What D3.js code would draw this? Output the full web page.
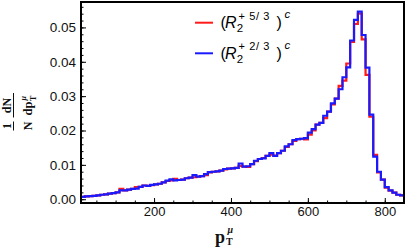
<!DOCTYPE html>
<html>
<head>
<meta charset="utf-8">
<script src="https://cdn.jsdelivr.net/npm/d3@7"></script>
<style>
  body { margin: 0; background: #fff; }
  svg { display: block; }
</style>
</head>
<body>
<script>
// bin left edges (width 10), pT in GeV
var binEdges = d3.range(10, 850, 10);
var binWidth = 10;

// (R2^{+5/3})^c  -- red
var redValues = [
  0.0007, 0.0008, 0.0009, 0.0010, 0.0011, 0.0013, 0.0014, 0.0016, 0.0018, 0.0020,
  0.0030, 0.0026, 0.0028, 0.0030, 0.0035, 0.0036, 0.0040, 0.0039, 0.0041, 0.0043,
  0.0045, 0.0049, 0.0053, 0.0055, 0.0059, 0.0056, 0.0057, 0.0061, 0.0063, 0.0064,
  0.0066, 0.0067, 0.0070, 0.0078, 0.0080, 0.0081, 0.0083, 0.0087, 0.0089, 0.0090,
  0.0091, 0.0097, 0.0095, 0.0094, 0.0102, 0.0111, 0.0117, 0.0120, 0.0126, 0.0130,
  0.0127, 0.0134, 0.0141, 0.0152, 0.0160, 0.0170, 0.0175, 0.0176, 0.0174, 0.0188,
  0.0200, 0.0217, 0.0222, 0.0236, 0.0255, 0.0276, 0.0293, 0.0330, 0.0345, 0.0395,
  0.0458, 0.0510, 0.0540, 0.0465, 0.0362, 0.0240, 0.0129, 0.0078, 0.0057, 0.0034,
  0.0025, 0.0019, 0.0013, 0.0011
];

// (R2^{+2/3})^c  -- blue
var blueValues = [
  0.0007, 0.0008, 0.0009, 0.0010, 0.0011, 0.0013, 0.0014, 0.0016, 0.0018, 0.0020,
  0.0026, 0.0026, 0.0028, 0.0030, 0.0031, 0.0036, 0.0040, 0.0039, 0.0042, 0.0043,
  0.0045, 0.0049, 0.0054, 0.0058, 0.0055, 0.0056, 0.0057, 0.0061, 0.0063, 0.0070,
  0.0066, 0.0067, 0.0073, 0.0079, 0.0080, 0.0081, 0.0083, 0.0088, 0.0089, 0.0090,
  0.0091, 0.0104, 0.0095, 0.0096, 0.0102, 0.0112, 0.0117, 0.0119, 0.0126, 0.0134,
  0.0126, 0.0134, 0.0141, 0.0154, 0.0160, 0.0172, 0.0175, 0.0176, 0.0178, 0.0194,
  0.0204, 0.0217, 0.0222, 0.0243, 0.0255, 0.0279, 0.0293, 0.0320, 0.0355, 0.0384,
  0.0462, 0.0522, 0.0546, 0.0478, 0.0383, 0.0246, 0.0124, 0.0080, 0.0057, 0.0035,
  0.0026, 0.0019, 0.0013, 0.0011
];

var yTickValues = [0, 0.01, 0.02, 0.03, 0.04, 0.05];
var xTickValues = [200, 400, 600, 800];

var seriesList = [
  { name: "5/3", values: redValues, color: "#ff1a1a" },
  { name: "2/3", values: blueValues, color: "#1a1aff" }
];

var width = 408, height = 248;
var plotLeft = 81, plotRight = 404, plotTop = 2, plotBottom = 203;

var svg = d3.select("body").append("svg")
    .attr("width", width)
    .attr("height", height)
    .style("font-family", "'Liberation Sans', Arial, sans-serif");

var x = d3.scaleLinear().domain([10, 850]).range([plotLeft, plotRight]);
var y = d3.scaleLinear().domain([-0.0011, 0.0574]).range([plotBottom, plotTop]);

svg.append("clipPath").attr("id", "plotclip")
  .append("rect")
    .attr("x", plotLeft).attr("y", plotTop)
    .attr("width", plotRight - plotLeft).attr("height", plotBottom - plotTop);

// minor ticks
var yAxisMinor = d3.axisRight(y).tickValues(d3.range(0, 0.0575, 0.002))
    .tickSize(2.5).tickFormat("");
svg.append("g").attr("transform", "translate(" + plotLeft + ",0)")
    .call(yAxisMinor)
    .call(function (g) { g.select(".domain").remove(); })
    .selectAll("line").attr("stroke", "#000").attr("stroke-width", 1);

var xAxisMinor = d3.axisTop(x).tickValues(d3.range(50, 850, 50))
    .tickSize(2.5).tickFormat("");
svg.append("g").attr("transform", "translate(0," + plotBottom + ")")
    .call(xAxisMinor)
    .call(function (g) { g.select(".domain").remove(); })
    .selectAll("line").attr("stroke", "#000").attr("stroke-width", 1);

// major ticks + labels
var yAxis = d3.axisLeft(y).tickValues(yTickValues).tickSize(-5).tickPadding(5)
    .tickFormat(d3.format(".2f"));
var gy = svg.append("g").attr("transform", "translate(" + plotLeft + ",0)").call(yAxis);
gy.select(".domain").remove();
gy.selectAll("line").attr("stroke", "#000").attr("stroke-width", 1);
gy.selectAll("text").attr("font-size", 13.5).attr("fill", "#111")
    .attr("font-family", "'Liberation Sans', Arial, sans-serif");

var xAxis = d3.axisBottom(x).tickValues(xTickValues).tickSize(-5).tickPadding(3.5)
    .tickFormat(d3.format("d"));
var gx = svg.append("g").attr("transform", "translate(0," + plotBottom + ")").call(xAxis);
gx.select(".domain").remove();
gx.selectAll("line").attr("stroke", "#000").attr("stroke-width", 1);
gx.selectAll("text").attr("font-size", 13).attr("fill", "#111")
    .attr("font-family", "'Liberation Sans', Arial, sans-serif");

// histograms as steps
var stepLine = d3.line()
    .x(function (d) { return x(d[0]); })
    .y(function (d) { return y(d[1]); })
    .curve(d3.curveStepAfter);

seriesList.forEach(function (s) {
  var pts = binEdges.map(function (e, i) { return [e, s.values[i]]; });
  pts.push([binEdges[binEdges.length - 1] + binWidth, s.values[s.values.length - 1]]);
  svg.append("path")
      .attr("clip-path", "url(#plotclip)")
      .attr("d", stepLine(pts))
      .attr("fill", "none")
      .attr("stroke", s.color)
      .attr("stroke-width", 2.2);
});

// frame
svg.append("rect")
    .attr("x", plotLeft).attr("y", plotTop)
    .attr("width", plotRight - plotLeft).attr("height", plotBottom - plotTop)
    .attr("fill", "none").attr("stroke", "#000").attr("stroke-width", 2);

// legend: one text element per entry, sub/superscripts as tspans
var legend = svg.append("g").attr("font-family", "'Liberation Sans', Arial, sans-serif");
seriesList.forEach(function (s, i) {
  var ly = 22.7 + i * 30.6;
  legend.append("line").attr("x1", 195).attr("x2", 213).attr("y1", ly).attr("y2", ly)
      .attr("stroke", s.color).attr("stroke-width", 2);
  var t = legend.append("text").attr("font-size", 16).style("white-space", "pre");
  t.append("tspan").attr("x", 220.5).attr("y", ly + 5.6).text("(");
  t.append("tspan").attr("x", 225).attr("y", ly + 5.6).attr("font-style", "italic").text("R");
  t.append("tspan").attr("x", 236.7).attr("y", ly + 9.5).attr("font-size", 11.5).text("2");
  t.append("tspan").attr("x", 238.5).attr("y", ly - 3.2).attr("font-size", 11)
      .attr("letter-spacing", 0.6).text("+ " + s.name.replace("/", "/ "));
  t.append("tspan").attr("x", 276.5).attr("y", ly + 5.6).text(")");
  t.append("tspan").attr("x", 284.5).attr("y", ly - 4.4).attr("font-size", 11.5)
      .attr("font-style", "italic").text("c");
});

// y label: 1/N dN/dpT^mu, rotated
var serif = "'Liberation Serif', 'Times New Roman', serif";
var yl = svg.append("g").attr("transform", "rotate(-90)")
    .attr("font-family", serif).attr("font-weight", "bold").attr("fill", "#111");
yl.append("text").attr("x", -126).attr("y", 10.5).attr("text-anchor", "middle")
    .attr("font-size", 12).text("1");
yl.append("line").attr("x1", -130.5).attr("x2", -121.5).attr("y1", 13.5).attr("y2", 13.5)
    .attr("stroke", "#111").attr("stroke-width", 1);
yl.append("text").attr("x", -126).attr("y", 31.5).attr("text-anchor", "middle")
    .attr("font-size", 12).text("N");
yl.append("text").attr("x", -105.5).attr("y", 10.5).attr("text-anchor", "middle")
    .attr("font-size", 12).text("dN");
yl.append("line").attr("x1", -117.5).attr("x2", -93).attr("y1", 13.5).attr("y2", 13.5)
    .attr("stroke", "#111").attr("stroke-width", 1);
var den = yl.append("text").attr("font-size", 12.5);
den.append("tspan").attr("x", -115.5).attr("y", 31.5).text("dp");
den.append("tspan").attr("x", -101).attr("y", 35.5).attr("font-size", 8).text("T");
den.append("tspan").attr("x", -100.5).attr("y", 26).attr("font-size", 8)
    .attr("font-style", "italic").text("\u03bc");

// x label: pT^mu
var xl = svg.append("text").attr("font-family", serif).attr("font-weight", "bold")
    .attr("fill", "#111").attr("font-size", 18);
xl.append("tspan").attr("x", 215).attr("y", 243.3).text("p");
xl.append("tspan").attr("x", 226).attr("y", 245).attr("font-size", 10).text("T");
xl.append("tspan").attr("x", 227.5).attr("y", 232.5).attr("font-size", 10)
    .attr("font-style", "italic").text("\u03bc");
</script>
</body>
</html>
